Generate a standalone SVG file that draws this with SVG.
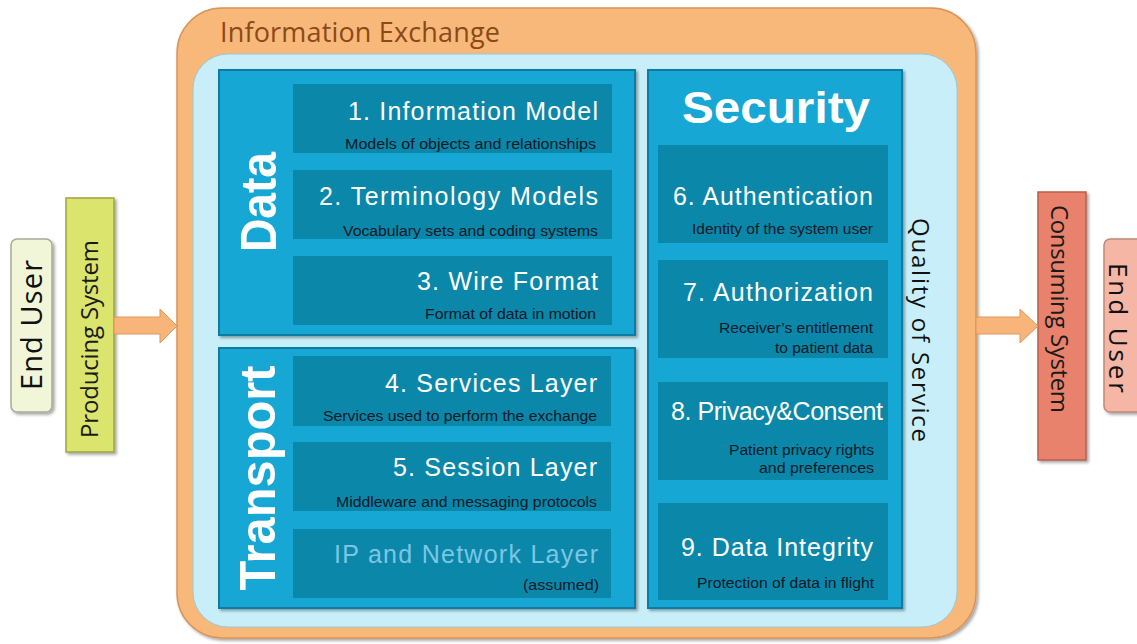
<svg xmlns="http://www.w3.org/2000/svg" width="1137" height="644" viewBox="0 0 1137 644">
<defs>
<filter id="sh" x="-10%" y="-10%" width="130%" height="130%">
<feDropShadow dx="2" dy="2" stdDeviation="1.5" flood-color="#000" flood-opacity="0.35"/>
</filter>
</defs>
<style>
.cal{font-family:"Open Sans","Liberation Sans",sans-serif}
.ar{font-family:"Liberation Sans",Arial,sans-serif}
.panel{fill:#12a7d4;stroke:#0b7ca4;stroke-width:2}
.sub{fill:#0b87aa}
.main{fill:#ffffff;font-size:25px;text-anchor:end}
.desc{fill:#081a28;font-size:14px;text-anchor:end}
.big{fill:#ffffff;font-weight:bold}
.arrow{fill:#f8b57a;stroke:#e0955a;stroke-width:1}
</style>
<rect width="1137" height="644" fill="#ffffff"/>

<g id="end-user-left">
<rect x="11" y="239" width="41" height="173" rx="6" fill="#f2f6d8" stroke="#a8aa98" stroke-width="1.5" filter="url(#sh)"/>
<text class="cal" transform="translate(42,325) rotate(-90)" text-anchor="middle" font-size="29" fill="#111" textLength="130">End User</text>
</g>

<g id="producing-system">
<rect x="66" y="198" width="48" height="254" fill="#dbe46c" stroke="#9da442" stroke-width="1.5" filter="url(#sh)"/>
<text class="cal" transform="translate(98,339) rotate(-90)" text-anchor="middle" font-size="24" fill="#1a1a1a" textLength="198">Producing System</text>
</g>

<g id="information-exchange">
<rect x="177" y="8" width="799" height="630" rx="45" fill="#f8b87a" stroke="#d9945a" stroke-width="1.5" filter="url(#sh)"/>
<text class="cal" x="220" y="42" font-size="27" fill="#8a4a17" textLength="280">Information Exchange</text>
<rect x="193" y="54" width="764" height="573" rx="35" fill="#c8eff9" stroke="#9cc8d6" stroke-width="1"/>
<text class="cal" transform="translate(912,330) rotate(90)" text-anchor="middle" font-size="24" fill="#111" textLength="224">Quality of Service</text>
</g>

<g id="data">
<rect class="panel" x="219" y="70" width="416" height="265" filter="url(#sh)"/>
<text class="ar big" transform="translate(276,202) rotate(-90)" text-anchor="middle" font-size="50" textLength="100" lengthAdjust="spacingAndGlyphs">Data</text>
<g id="information-model">
<rect class="sub" x="293" y="84" width="319" height="69"/>
<text class="ar main" x="598" y="120" textLength="250">1. Information  Model</text>
<text class="ar desc" x="596" y="149" textLength="251" lengthAdjust="spacingAndGlyphs">Models of objects and  relationships</text>
</g>
<g id="terminology-models">
<rect class="sub" x="293" y="170" width="319" height="69"/>
<text class="ar main" x="598" y="205" textLength="279">2. Terminology  Models</text>
<text class="ar desc" x="598" y="236" textLength="255" lengthAdjust="spacingAndGlyphs">Vocabulary sets and coding systems</text>
</g>
<g id="wire-format">
<rect class="sub" x="293" y="256" width="319" height="69"/>
<text class="ar main" x="598" y="290" textLength="181">3. Wire Format</text>
<text class="ar desc" x="596" y="319" textLength="171" lengthAdjust="spacingAndGlyphs">Format of data in motion</text>
</g>
</g>

<g id="transport">
<rect class="panel" x="219" y="348" width="416" height="260" filter="url(#sh)"/>
<text class="ar big" transform="translate(275,478) rotate(-90)" text-anchor="middle" font-size="50" textLength="225" lengthAdjust="spacingAndGlyphs">Transport</text>
<g id="services-layer">
<rect class="sub" x="293" y="356" width="318" height="70"/>
<text class="ar main" x="597" y="392" textLength="212">4. Services  Layer</text>
<text class="ar desc" x="597" y="421" textLength="274" lengthAdjust="spacingAndGlyphs">Services used to perform the exchange</text>
</g>
<g id="session-layer">
<rect class="sub" x="293" y="442" width="318" height="69"/>
<text class="ar main" x="597" y="476" textLength="204">5. Session  Layer</text>
<text class="ar desc" x="597" y="507" textLength="261" lengthAdjust="spacingAndGlyphs">Middleware and messaging protocols</text>
</g>
<g id="ip-network-layer">
<rect class="sub" x="293" y="529" width="318" height="69"/>
<text class="ar main" x="598" y="563" style="fill:#7cc6e4" textLength="264">IP and Network Layer</text>
<text class="ar desc" x="599" y="590" textLength="76" lengthAdjust="spacingAndGlyphs">(assumed)</text>
</g>
</g>

<g id="security">
<rect class="panel" x="648" y="70" width="254" height="538" filter="url(#sh)"/>
<text class="ar big" x="776" y="123" text-anchor="middle" font-size="45" textLength="188" lengthAdjust="spacingAndGlyphs">Security</text>
<g id="authentication">
<rect class="sub" x="658" y="145" width="230" height="98"/>
<text class="ar main" x="873" y="205" textLength="200">6. Authentication</text>
<text class="ar desc" x="873" y="234" textLength="181" lengthAdjust="spacingAndGlyphs">Identity of the system user</text>
</g>
<g id="authorization">
<rect class="sub" x="658" y="260" width="230" height="98"/>
<text class="ar main" x="873" y="301" textLength="190">7. Authorization</text>
<text class="ar desc" x="873" y="333" textLength="154" lengthAdjust="spacingAndGlyphs">Receiver’s entitlement</text>
<text class="ar desc" x="873" y="353" textLength="98" lengthAdjust="spacingAndGlyphs">to patient data</text>
</g>
<g id="privacy-consent">
<rect class="sub" x="658" y="382" width="230" height="98"/>
<text class="ar main" x="883" y="420" textLength="212">8. Privacy&amp;Consent</text>
<text class="ar desc" x="874" y="455" textLength="145" lengthAdjust="spacingAndGlyphs">Patient privacy rights</text>
<text class="ar desc" x="874" y="473" textLength="115" lengthAdjust="spacingAndGlyphs">and preferences</text>
</g>
<g id="data-integrity">
<rect class="sub" x="658" y="503" width="230" height="97"/>
<text class="ar main" x="873" y="556" textLength="192">9. Data  Integrity</text>
<text class="ar desc" x="874" y="588" textLength="177" lengthAdjust="spacingAndGlyphs">Protection of data in flight</text>
</g>
</g>

<g id="consuming-system">
<rect x="1038" y="192" width="48" height="268" fill="#e9826c" stroke="#b85f4c" stroke-width="1.5" filter="url(#sh)"/>
<text class="cal" transform="translate(1051,309) rotate(90)" text-anchor="middle" font-size="24" fill="#1a1a1a" textLength="208">Consuming System</text>
</g>

<g id="end-user-right">
<rect x="1104" y="239" width="50" height="173" rx="6" fill="#f5b6a6" stroke="#c08878" stroke-width="1.5" filter="url(#sh)"/>
<text class="cal" transform="translate(1109,328) rotate(90)" text-anchor="middle" font-size="26" fill="#111" textLength="130">End User</text>
</g>

<g id="connectors">
<path class="arrow" d="M114,317 H160 V309 L177,326 L160,343 V334 H114 Z"/>
<path class="arrow" d="M976,317 H1020 V309 L1038,326 L1020,343 V334 H976 Z"/>
</g>
</svg>
